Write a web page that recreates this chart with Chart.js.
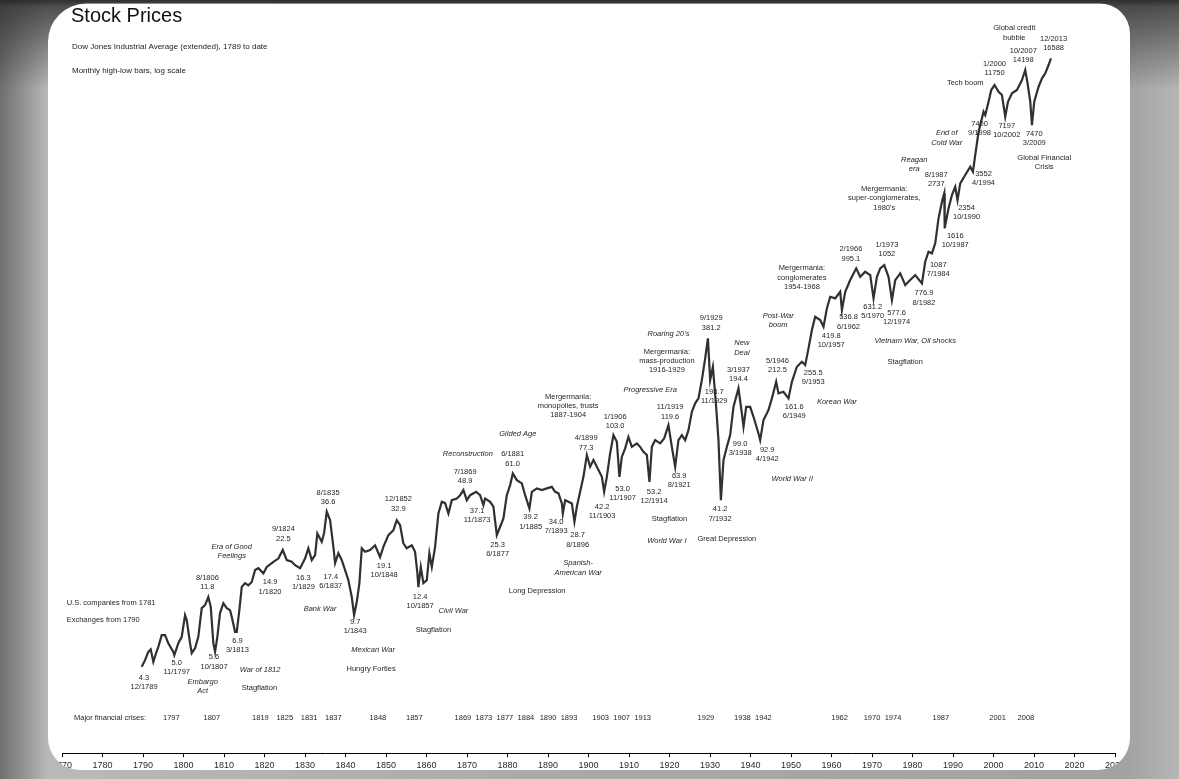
<!DOCTYPE html>
<html>
<head>
<meta charset="utf-8">
<title>Stock Prices</title>
<script src="https://cdn.jsdelivr.net/npm/chart.js@4.4.1/dist/chart.umd.min.js"></script>
<style>
    html, body { margin: 0; padding: 0; background: #fff; overflow: hidden; }
    #stockChart { display: block; }
</style>
</head>
<body>
<canvas id="stockChart" width="1179" height="779"></canvas>
<script>
// Dow Jones Industrial Average (extended)
const years = [
    1789.68, 1790.50, 1791.31, 1791.91, 1792.55, 1793.22, 1793.78, 1794.62, 1795.44, 1796.25,
    1797.49, 1797.74, 1798.72, 1799.56, 1800.38, 1800.80, 1801.61, 1802.03, 1802.85, 1803.66,
    1804.50, 1805.32, 1806.13, 1806.73, 1807.37, 1807.79, 1808.36, 1809.02, 1809.84, 1810.68,
    1811.49, 1811.91, 1812.73, 1813.15, 1813.79, 1814.38, 1815.20, 1816.01, 1816.85, 1817.67,
    1818.48, 1819.72, 1820.56, 1822.19, 1823.42, 1824.51, 1825.50, 1826.73, 1827.55, 1828.78,
    1830.01, 1830.83, 1831.67, 1832.49, 1833.05, 1834.14, 1834.71, 1835.37, 1836.19, 1837.01,
    1837.43, 1838.24, 1839.08, 1839.90, 1840.71, 1841.55, 1842.12, 1842.79, 1843.43, 1844.02,
    1844.83, 1846.07, 1847.30, 1848.54, 1849.35, 1850.59, 1851.82, 1852.66, 1853.48, 1854.29,
    1855.13, 1856.37, 1857.18, 1857.75, 1858.00, 1858.59, 1859.23, 1860.07, 1860.71, 1861.31,
    1862.12, 1862.94, 1863.78, 1864.59, 1865.41, 1866.25, 1867.48, 1868.30, 1869.11, 1869.95,
    1870.77, 1872.25, 1873.24, 1874.05, 1874.47, 1875.71, 1876.52, 1877.36, 1878.18, 1878.99,
    1879.83, 1880.65, 1881.31, 1882.30, 1883.54, 1884.35, 1885.41, 1886.01, 1887.24, 1888.48,
    1889.71, 1890.95, 1891.76, 1892.58, 1893.42, 1893.66, 1894.23, 1895.05, 1895.89, 1896.53,
    1897.12, 1897.93, 1898.75, 1899.59, 1900.40, 1901.22, 1902.06, 1903.30, 1903.86, 1904.53,
    1905.34, 1906.16, 1907.00, 1907.64, 1908.23, 1909.05, 1909.86, 1910.70, 1911.94, 1912.75,
    1913.57, 1914.41, 1915.05, 1915.64, 1916.46, 1917.69, 1918.68, 1919.74, 1920.58, 1921.40,
    1922.21, 1923.05, 1923.87, 1924.68, 1925.52, 1926.34, 1927.15, 1927.99, 1928.81, 1929.48,
    1930.04, 1930.71, 1931.52, 1932.09, 1932.69, 1933.33, 1934.17, 1934.98, 1935.80, 1937.03,
    1937.87, 1938.27, 1938.94, 1939.92, 1940.74, 1941.97, 1942.39, 1943.21, 1944.44, 1945.28,
    1946.34, 1946.91, 1948.14, 1949.38, 1950.22, 1951.45, 1952.69, 1953.51, 1954.32, 1955.16,
    1955.97, 1957.21, 1958.03, 1958.86, 1959.68, 1960.92, 1962.15, 1962.57, 1963.39, 1964.62,
    1966.10, 1967.09, 1968.32, 1969.56, 1970.38, 1971.21, 1972.03, 1973.02, 1974.08, 1974.92,
    1975.74, 1976.97, 1978.21, 1979.44, 1980.67, 1982.33, 1983.14, 1983.96, 1984.80, 1985.61,
    1986.43, 1987.27, 1987.84, 1987.95, 1988.90, 1989.74, 1990.55, 1991.12, 1991.79, 1993.02,
    1994.26, 1994.92, 1995.49, 1996.31, 1997.15, 1997.54, 1997.96, 1998.78, 1999.44, 2000.26,
    2001.25, 2002.09, 2002.90, 2003.57, 2004.56, 2005.79, 2007.03, 2007.84, 2008.41, 2009.08,
    2009.49, 2010.06, 2011.13, 2011.97, 2012.78, 2013.60, 2014.19
];

const dowValues = [
    4.30, 4.71, 5.27, 5.45, 4.60, 5.18, 5.64, 6.61, 6.61, 5.93,
    5.27, 5.04, 5.93, 6.46, 8.68, 8.11, 5.93, 5.18, 5.54, 6.46,
    9.54, 9.94, 11.1, 9.71, 5.93, 5.27, 6.46, 8.92, 10.2, 9.54,
    9.29, 8.48, 6.92, 6.92, 9.29, 12.7, 13.4, 13.0, 13.6, 16.0,
    16.4, 15.3, 16.7, 17.9, 18.7, 21.0, 18.3, 17.9, 17.1, 16.4,
    18.7, 21.5, 18.3, 19.6, 26.3, 23.5, 26.4, 35.3, 31.5, 21.9,
    17.6, 20.1, 18.3, 16.0, 13.95, 11.1, 8.68, 10.4, 13.4, 21.5,
    20.5, 21.0, 22.4, 19.1, 21.9, 25.7, 27.5, 31.5, 29.4, 23.0,
    21.5, 22.4, 20.5, 15.3, 12.7, 16.7, 13.4, 13.95, 20.1, 16.7,
    21.9, 34.5, 40.4, 39.7, 34.5, 41.3, 42.3, 44.2, 47.4, 41.3,
    44.2, 46.3, 44.2, 38.6, 42.3, 40.4, 37.8, 25.7, 28.8, 32.2,
    44.2, 50.7, 59.4, 54.2, 51.9, 44.2, 36.9, 46.3, 48.5, 47.4,
    48.5, 49.5, 46.3, 45.3, 39.5, 34.5, 41.3, 40.4, 39.5, 30.8,
    37.8, 46.3, 56.7, 76.2, 65.0, 71.2, 65.0, 56.7, 46.3, 56.7,
    77.9, 99.9, 91.2, 56.7, 74.4, 83.4, 97.6, 85.2, 89.3, 85.2,
    79.6, 76.2, 53.0, 85.2, 93.3, 89.3, 95.5, 114.4, 85.2, 65.0,
    93.3, 99.9, 93.3, 106.9, 137.1, 153.7, 164.4, 210.9, 283.1, 371.4,
    210.9, 252.6, 146.7, 93.3, 41.3, 71.2, 85.2, 99.9, 146.7, 188.4,
    134.2, 111.8, 146.7, 146.7, 128.1, 102.2, 93.3, 122.5, 140.3, 164.4,
    206.0, 176.0, 179.8, 164.4, 206.0, 252.6, 270.3, 258.4, 324.2, 415.7,
    497.9, 476.1, 434.6, 557.9, 653.1, 639.1, 699.2, 545.3, 699.2, 819.4,
    960.5, 857.0, 917.2, 877.0, 639.1, 857.0, 960.5, 1004.6, 857.0, 624.6,
    819.4, 897.4, 765.6, 819.4, 877.0, 783.4, 1050.5, 1203.4, 1177.6, 1348.6,
    1893.8, 2372, 2658, 1653, 2169, 2598, 2908, 2427, 3046, 3409,
    3815, 3565, 4473, 6136, 7363, 8053, 7699, 9222, 10809, 11570,
    10563, 10100, 7522, 9222, 10337, 10809, 12379, 14181, 11836, 9222,
    6720, 9222, 11305, 12667, 13558, 15180, 16620
];

const crisisYears = [1797, 1807, 1819, 1825, 1831, 1837, 1848, 1857, 1869, 1873, 1877, 1884, 1890,
    1893, 1903, 1907, 1913, 1929, 1938, 1942, 1962, 1970, 1974, 1987, 2001, 2008];

// [year, value, text] - highs / lows and periods
const priceNotes = [
    [1790.25, 3.70, "4.3\n12/1789"],
    [1798.33, 4.54, "5.0\n11/1797"],
    [1805.89, 14.39, "8/1806\n11.8"],
    [1807.54, 4.89, "5.6\n10/1807"],
    [1813.30, 6.10, "6.9\n3/1813"],
    [1818.73, 3.21, "Stagflation"],
    [1821.37, 13.53, "14.9\n1/1820"],
    [1824.66, 27.77, "9/1824\n22.5"],
    [1829.60, 14.39, "16.3\n1/1829"],
    [1836.36, 14.59, "17.4\n6/1837"],
    [1835.70, 45.65, "8/1835\n36.6"],
    [1842.37, 7.92, "9.7\n1/1843"],
    [1846.32, 4.17, "Hungry Forties"],
    [1849.53, 16.94, "19.1\n10/1848"],
    [1853.06, 41.73, "12/1852\n32.9"],
    [1858.42, 11.12, "12.4\n10/1857"],
    [1861.70, 7.08, "Stagflation"],
    [1869.53, 60.70, "7/1869\n48.9"],
    [1872.50, 35.76, "37.1\n11/1873"],
    [1877.56, 22.44, "25.3\n6/1877"],
    [1881.27, 76.88, "6/1881\n61.0"],
    [1885.71, 32.69, "39.2\n1/1885"],
    [1887.32, 12.02, "Long Depression"],
    [1892.01, 30.79, "34.0\n7/1893"],
    [1897.32, 25.70, "28.7\n8/1896"],
    [1894.97, 168.0, "Mergermania:\nmonopolies, trusts\n1887-1904"],
    [1899.42, 95.5, "4/1899\n77.3"],
    [1903.37, 37.76, "42.2\n11/1903"],
    [1906.58, 128.1, "1/1906\n103.0"],
    [1908.43, 48.0, "53.0\n11/1907"],
    [1916.21, 46.27, "53.2\n12/1914"],
    [1919.99, 31.94, "Stagflation"],
    [1920.16, 145.5, "11/1919\n119.6"],
    [1922.39, 57.28, "63.9\n8/1921"],
    [1919.35, 309.5, "Mergermania:\nmass-production\n1916-1929"],
    [1930.29, 487.3, "9/1929\n381.2"],
    [1931.03, 179.8, "198.7\n11/1929"],
    [1932.51, 36.44, "41.2\n7/1932"],
    [1934.17, 24.25, "Great Depression"],
    [1937.03, 241.4, "3/1937\n194.4"],
    [1937.45, 88.4, "99.0\n3/1938"],
    [1944.12, 81.5, "92.9\n4/1942"],
    [1946.66, 273.9, "5/1946\n212.5"],
    [1950.79, 146.7, "161.6\n6/1949"],
    [1955.48, 232.8, "255.5\n9/1953"],
    [1959.93, 383.1, "419.8\n10/1957"],
    [1952.69, 960.5, "Mergermania:\nconglomerates\n1954-1968"],
    [1964.20, 494.0, "536.8\n6/1962"],
    [1964.79, 1243, "2/1966\n995.1"],
    [1970.18, 570.3, "631.2\n5/1970"],
    [1973.68, 1318, "1/1973\n1052"],
    [1976.06, 525.7, "577.6\n12/1974"],
    [1978.20, 269.2, "Stagflation"],
    [1982.82, 684.0, "776.9\n8/1982"],
    [1986.35, 1004.6, "1087\n7/1984"],
    [1990.55, 1489, "1616\n10/1987"],
    [1993.34, 2187, "2354\n10/1990"],
    [1985.86, 3409, "8/1987\n2737"],
    [1997.54, 3456, "3552\n4/1994"],
    [1973.02, 2819, "Mergermania:\nsuper-conglomerates,\n1980's"],
    [1996.56, 6814, "7400\n9/1998"],
    [2003.27, 6659, "7197\n10/2002"],
    [2010.07, 5946, "7470\n3/2009"],
    [2012.53, 4311, "Global Financial\nCrisis"],
    [1993.02, 11933, "Tech boom"],
    [2000.26, 15381, "1/2000\n11750"],
    [2007.35, 18350, "10/2007\n14198"],
    [2005.12, 24970, "Global credit\nbubble"],
    [2014.83, 21600, "12/2013\n16588"]
];

// wars, eras, policies (set in italics)
const eraNotes = [
    [1804.75, 3.51, "Embargo\nAct"],
    [1818.90, 4.11, "War of 1812"],
    [1811.91, 21.93, "Era of Good\nFeelings"],
    [1833.72, 9.50, "Bank War"],
    [1846.81, 5.40, "Mexican War"],
    [1866.64, 9.20, "Civil War"],
    [1870.20, 77.93, "Reconstruction"],
    [1882.55, 101.3, "Gilded Age"],
    [1897.44, 17.58, "Spanish-\nAmerican War"],
    [1915.22, 184.0, "Progressive Era"],
    [1919.35, 23.79, "World War I"],
    [1919.74, 397.3, "Roaring 20's"],
    [1937.87, 347.0, "New\nDeal"],
    [1950.30, 54.99, "World War II"],
    [1961.33, 157.0, "Korean War"],
    [1946.84, 504.7, "Post-War\nboom"],
    [1980.67, 357.9, "Vietnam War, Oil shocks"],
    [1980.43, 4178, "Reagan\nera"],
    [1988.45, 6003, "End of\nCold War"]
];

const sideNotes = [
    [1771.16, 10.25, "U.S. companies from 1781"],
    [1771.16, 8.11, "Exchanges from 1790"]
];

const FONT = '"Liberation Sans", Arial, sans-serif';

function drawNote(ctx, chart, note, italic, align) {
    const x = chart.scales.x.getPixelForValue(note[0]);
    const y = chart.scales.y.getPixelForValue(note[1]);
    ctx.font = (italic ? 'italic ' : '') + '7.5px ' + FONT;
    ctx.textAlign = align;
    note[2].split('\n').forEach((line, i) => {
        ctx.fillText(line, x, y + i * 9.3);
    });
}

const notesPlugin = {
    id: 'notes',
    afterDatasetsDraw(chart) {
        const ctx = chart.ctx;
        ctx.save();
        ctx.fillStyle = '#262626';
        ctx.textBaseline = 'middle';
        priceNotes.forEach(n => drawNote(ctx, chart, n, false, 'center'));
        eraNotes.forEach(n => drawNote(ctx, chart, n, true, 'center'));
        sideNotes.forEach(n => drawNote(ctx, chart, n, false, 'left'));

        // crises row
        const rowY = chart.chartArea.bottom - 35;
        ctx.font = '7.5px ' + FONT;
        ctx.textAlign = 'left';
        ctx.fillText('Major financial crises:', 74, rowY);
        ctx.textAlign = 'center';
        let last = -100;
        crisisYears.forEach(yr => {
            let px = chart.scales.x.getPixelForValue(yr);
            if (px < last + 21) px = last + 21;
            ctx.fillText(String(yr), px, rowY);
            last = px;
        });

        // titles
        ctx.textAlign = 'left';
        ctx.fillStyle = '#111';
        ctx.font = '20px ' + FONT;
        ctx.fillText('Stock Prices', 71, 16.5);
        ctx.fillStyle = '#222';
        ctx.font = '8px ' + FONT;
        ctx.fillText('Dow Jones Industrial Average (extended), 1789 to date', 72, 46.5);
        ctx.fillText('Monthly high-low bars, log scale', 72, 70.5);
        ctx.restore();
    }
};

// grey surround with the rounded white card cut out
const framePlugin = {
    id: 'frame',
    afterDraw(chart) {
        const ctx = chart.ctx;
        const w = chart.width, h = chart.height;
        const path = new Path2D();
        path.rect(0, 0, w, h);
        path.roundRect(48, 3.5, 1082, 766.5, [38, 30, 32, 32]);

        ctx.save();
        const side = ctx.createLinearGradient(0, 0, w, 0);
        side.addColorStop(0, '#6e6e6e');
        side.addColorStop(0.04, '#b9b9b9');
        side.addColorStop(0.5, '#a9a9a9');
        side.addColorStop(0.955, '#a2a2a2');
        side.addColorStop(1, '#b6b6b6');
        ctx.fillStyle = side;
        ctx.fill(path, 'evenodd');

        const top = ctx.createLinearGradient(0, 0, 0, 90);
        top.addColorStop(0, 'rgba(35,35,35,0.92)');
        top.addColorStop(0.08, 'rgba(45,45,45,0.75)');
        top.addColorStop(1, 'rgba(45,45,45,0)');
        ctx.fillStyle = top;
        ctx.fill(path, 'evenodd');
        ctx.restore();
    }
};

new Chart(document.getElementById('stockChart'), {
    type: 'line',
    data: {
        datasets: [{
            label: 'Dow Jones Industrial Average',
            data: years.map((yr, i) => ({ x: yr, y: dowValues[i] })),
            borderColor: '#303030',
            borderWidth: 2.2,
            pointRadius: 0,
            tension: 0,
            fill: false
        }]
    },
    options: {
        responsive: false,
        animation: false,
        devicePixelRatio: 1,
        layout: { padding: { left: 62, right: 64, top: 5, bottom: 5 } },
        plugins: {
            legend: { display: false },
            tooltip: { enabled: false }
        },
        scales: {
            x: {
                type: 'linear',
                min: 1770,
                max: 2030,
                border: { display: true, color: '#000', width: 1 },
                grid: { display: true, drawOnChartArea: false, drawTicks: true, tickLength: 4, color: '#000' },
                ticks: {
                    stepSize: 10,
                    autoSkip: false,
                    maxRotation: 0,
                    padding: 3,
                    color: '#2a2a2a',
                    font: { family: FONT, size: 9 },
                    callback: v => String(v)
                }
            },
            y: {
                type: 'logarithmic',
                display: false,
                min: 1.332,
                max: 34280
            }
        }
    },
    plugins: [notesPlugin, framePlugin]
});
</script>
</body>
</html>
